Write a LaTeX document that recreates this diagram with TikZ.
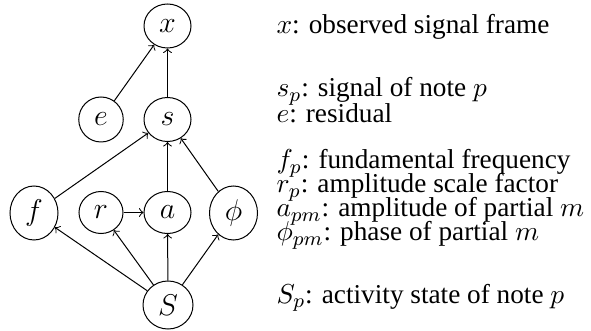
\documentclass[tikz,border=0pt]{standalone}
\usepackage{fontspec}
\setmainfont{Liberation Serif}
\usetikzlibrary{shapes.geometric}
\begin{document}
\begin{tikzpicture}[x=0.4pt,y=-0.4pt,
  var/.style={draw, ellipse, inner sep=0pt, line width=0.4pt, font=\fontsize{12.4}{14}\selectfont},
  edge/.style={->, line width=0.4pt},
  legend/.style={anchor=base west, inner sep=0pt, font=\fontsize{10.9}{12.5}\selectfont}]
\useasboundingbox (0,0) rectangle (591,331);
\node[var, minimum width=18.8pt, minimum height=17.6pt] (x) at (167.5,26) {$x$};
\node[var, minimum width=17.8pt, minimum height=18pt] (e) at (101,119.5) {$e$};
\node[var, minimum width=18.8pt, minimum height=17.6pt] (s) at (167.5,119.5) {$s$};
\node[var, minimum width=19.2pt, minimum height=21.6pt] (f) at (34,213) {$f$};
\node[var, minimum width=17.6pt, minimum height=16.8pt] (r) at (101,212.5) {$r$};
\node[var, minimum width=18.8pt, minimum height=16.8pt] (a) at (167.5,212.5) {$a$};
\node[var, minimum width=19.2pt, minimum height=21.6pt] (phi) at (233.5,213) {$\phi$};
\node[var, minimum width=20pt, minimum height=19.2pt] (S) at (168,305) {$S$};
\draw[edge] (e) -- (x);
\draw[edge] (s) -- (x);
\draw[edge] (f) -- (s);
\draw[edge] (a) -- (s);
\draw[edge] (phi) -- (s);
\draw[edge] (r) -- (a);
\draw[edge] (S) -- (f);
\draw[edge] (S) -- (r);
\draw[edge] (S) -- (a);
\draw[edge] (S) -- (phi);
\node[legend] (l1) at (276,34) {$x$: observed signal frame};
\node[legend] (l2) at (276,97) {$s_p$: signal of note $p$};
\node[legend] (l3) at (276,123) {$e$: residual};
\node[legend] (l4) at (276,169) {$f_p$: fundamental frequency};
\node[legend] (l5) at (276,193) {$r_p$: amplitude scale factor};
\node[legend] (l6) at (276,217) {$a_{pm}$: amplitude of partial $m$};
\node[legend] (l7) at (276,241) {$\phi_{pm}$: phase of partial $m$};
\node[legend] (l8) at (276,303) {$S_p$: activity state of note $p$};
\end{tikzpicture}
\end{document}
